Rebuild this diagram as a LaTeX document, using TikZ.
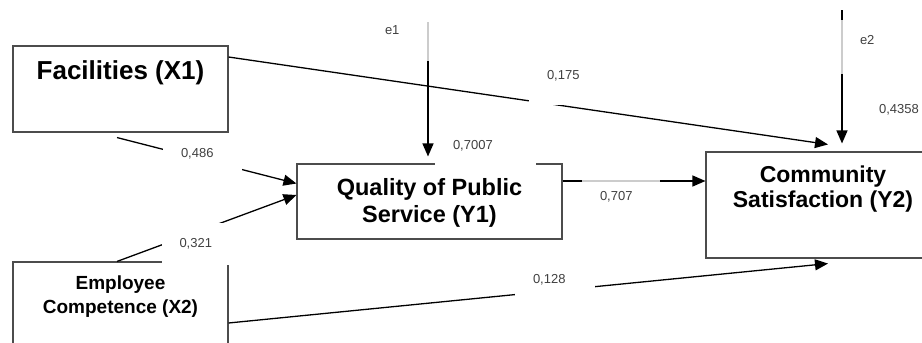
\documentclass[tikz,border=0pt]{standalone}
\usepackage{fontspec}
\setmainfont{Liberation Sans}
\usetikzlibrary{positioning,arrows.meta}

\begin{document}
\begin{tikzpicture}[x=1pt, y=-1pt,
	box/.style={draw=black!70, line width=1.1pt},
	title/.style={font=\bfseries, align=center, inner sep=0pt, anchor=north},
	path/.style={line width=1.3pt, -{Triangle[length=13pt,width=11pt]}},
	coef/.style={fill=white, text=black!75, font=\fontsize{13}{15}\selectfont,
		align=left, inner xsep=18pt, inner ysep=0pt}]
	\useasboundingbox (0,0) rectangle (922,343);

	\node[box, minimum width=215pt, minimum height=86pt] (x1) at (120.5,89) {};
	\node[box, minimum width=215pt, minimum height=100pt] (x2) at (120.5,312) {};
	\node[box, minimum width=265pt, minimum height=75pt] (y1) at (429.5,201.5) {};
	\node[box, minimum width=234pt, minimum height=106pt] (y2) at (823,205) {};

	\node[title, font=\bfseries\fontsize{26}{29}\selectfont, below=15pt of x1.north] (x1txt) {Facilities (X1)};
	\node[title, font=\bfseries\fontsize{19}{24}\selectfont, below=14pt of x2.north] (x2txt) {Employee\\Competence (X2)};
	\node[title, font=\bfseries\fontsize{23.5}{26.5}\selectfont, below=15pt of y1.north] (y1txt) {Quality of Public\\Service (Y1)};
	\node[title, font=\bfseries\fontsize{23}{25.5}\selectfont, below=14pt of y2.north] (y2txt) {Community\\Satisfaction (Y2)};

	\coordinate (e1top) at (428,22);
	\coordinate (e2top) at (842,10);

	\draw[path] ([xshift=-3.5pt,yshift=-5pt]x1.south) -- ([yshift=18pt]y1.west);
	\draw[path] ([xshift=-3.5pt]x2.north) -- ([yshift=6.5pt]y1.west);
	\draw[path] ([yshift=32pt]x1.east) -- ([xshift=5pt,yshift=7pt]y2.north);
	\draw[path] ([yshift=-11pt]x2.east) -- ([xshift=5pt,yshift=-5pt]y2.south);
	\draw[path] ([yshift=20.5pt]y1.east) -- ([yshift=20.5pt]y1.east -| y2.west);
	\draw[path, shorten >=7pt] (e1top) -- (e1top |- y1.north);
	\draw[path, shorten >=8pt] (e2top) -- (e2top |- y2.north);

	\node[coef, text width=43pt, minimum height=34pt] (b486) at (202.5,154) {0,486};
	\node[coef, text width=34pt, minimum height=42pt] (b321) at (196.5,244) {0,321};
	\node[coef, text width=65pt, minimum height=40pt] (b7007) at (485.5,146) {0,7007};
	\node[coef, text width=44pt, minimum height=57pt] (b175) at (569,76) {0,175};
	\node[coef, text width=44pt, minimum height=32pt] (b128) at (555,280) {0,128};
	\node[coef, fill opacity=0.8, text opacity=1, text width=42pt, minimum height=36pt] (b707) at (621,197) {0,707};
	\node[coef, fill opacity=0.8, text opacity=1, text width=34pt, minimum height=62pt] (be1) at (402,30) {e1};
	\node[coef, inner xsep=20pt, fill opacity=0.8, text opacity=1, text width=24pt, text depth=13pt, minimum height=54pt] (be2) at (872,46.5) {e2};
	\node[coef, inner xsep=2pt] (b4358) at (899,110) {0,4358};
\end{tikzpicture}
\end{document}
